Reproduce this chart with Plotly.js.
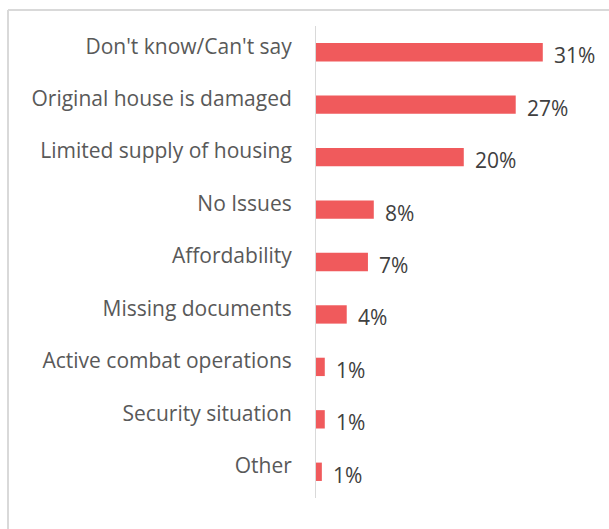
<!DOCTYPE html>
<html>
<head>
<meta charset="utf-8">
<script src="https://cdn.plot.ly/plotly-3.0.1.min.js"></script>
<style>html,body{margin:0;padding:0;background:#fff;}#chart{width:609px;height:529px;}</style>
</head>
<body>
<div id="chart"></div>
<script>
const categories = ["Don't know/Can't say","Original house is damaged","Limited supply of housing","No Issues","Affordability","Missing documents","Active combat operations","Security situation","Other"];
const values = [31, 27.3, 20.2, 7.9, 7.1, 4.2, 1.2, 1.2, 0.8];
const valueLabels = ["31%","27%","20%","8%","7%","4%","1%","1%","1%"];

const trace = {
  type: 'bar',
  orientation: 'h',
  y: categories,
  x: values,
  marker: {color: '#F05A5C'},
  hoverinfo: 'none'
};

const annotations = categories.map((c, i) => ({
  x: values[i], y: c, xref: 'x', yref: 'y',
  text: valueLabels[i], showarrow: false,
  xanchor: 'left', yanchor: 'middle', xshift: 9, yshift: -3,
  font: {family: 'Open Sans, sans-serif', size: 21, color: '#404040'}
}));

const W = 609, H = 529, ml = 316, mt = 26, mb = 31, mr = 15;
const pw = W - ml - mr, ph = H - mt - mb;
const px = v => (v - ml) / pw;
const py = v => (H - mb - v) / ph;

const layout = {
  width: W, height: H,
  margin: {l: ml, r: mr, t: mt, b: mb, pad: 0},
  paper_bgcolor: '#fff', plot_bgcolor: '#fff',
  showlegend: false,
  bargap: 0.65,
  xaxis: {range: [0, 38], visible: false, fixedrange: true},
  yaxis: {
    type: 'category', autorange: 'reversed',
    showline: true, linecolor: '#d9d9d9', linewidth: 1,
    showgrid: false, zeroline: false, ticks: '',
    ticklabelstandoff: 19, ticklabelshift: 6,
    tickfont: {family: 'Open Sans, sans-serif', size: 21, color: '#595959'}
  },
  annotations: annotations,
  shapes: [
    {type: 'line', xref: 'paper', yref: 'paper', x0: px(8), x1: px(8), y0: py(540), y1: py(10), line: {color: '#d9d9d9', width: 2}},
    {type: 'line', xref: 'paper', yref: 'paper', x0: px(8), x1: px(620), y0: py(10), y1: py(10), line: {color: '#d9d9d9', width: 2}}
  ]
};

Plotly.newPlot('chart', [trace], layout, {displayModeBar: false, staticPlot: true});
</script>
</body>
</html>
